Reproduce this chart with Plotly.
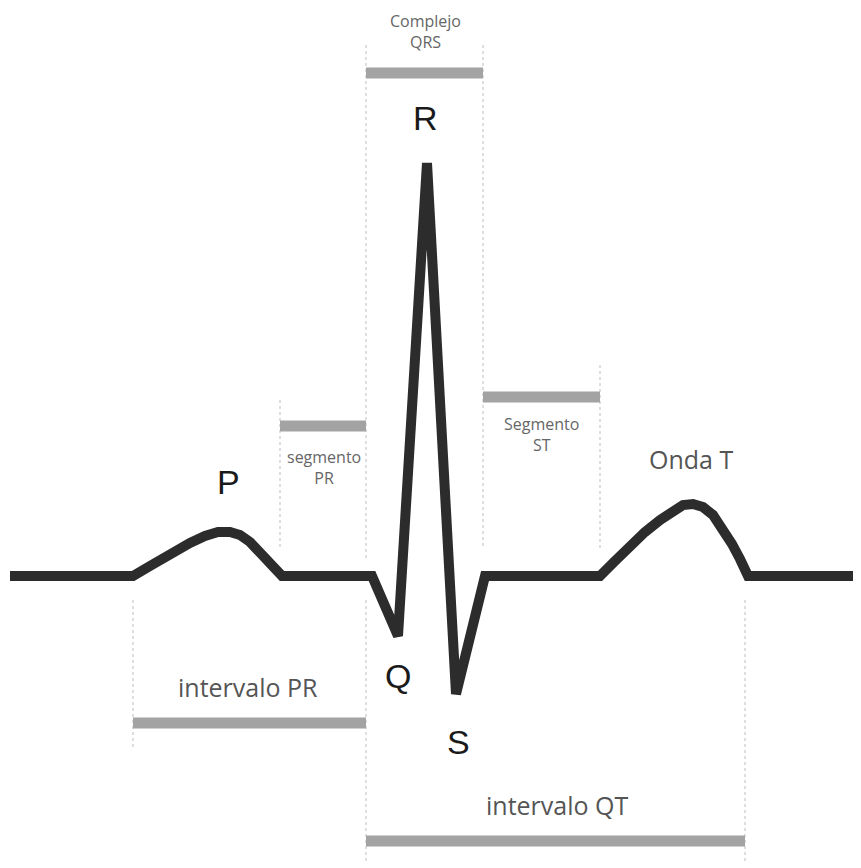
import plotly.graph_objects as go

# ECG trace (time units ~ px, amplitude units ~ px, y downward)
ecg_t = [10, 133, 150, 170, 190, 205, 218, 230, 240, 250, 260, 270, 282,
         372, 398, 427, 456, 485,
         600, 615, 630, 645, 660, 672, 683, 693, 703, 713, 722, 732, 740, 748, 861]
ecg_v = [576, 576, 566, 554, 543, 536, 532, 532, 535, 542, 553, 564, 576,
         576, 636, 163, 694, 576,
         576, 561, 546, 532, 520, 511, 505, 504, 507, 515, 527, 544, 559, 576, 576]

# Interval / segment bars: name, start, end, level
bar_names = ["Complejo QRS", "segmento PR", "Segmento ST", "intervalo PR", "intervalo QT"]
bar_start = [366, 280, 483, 133, 366]
bar_end = [483, 366, 600, 366, 745]
bar_level = [73, 426, 397, 723, 841]

# Guide lines: x, y_from, y_to
guide_x = [133, 280, 366, 366, 483, 600, 745]
guide_y0 = [600, 400, 45, 600, 45, 365, 600]
guide_y1 = [748, 548, 560, 862, 548, 548, 862]

# Labels
big_labels = ["R", "P", "Q", "S"]
big_x = [425, 228, 398, 458]
big_y = [118, 482, 676, 742]

small_labels = ["Complejo<br>QRS", "segmento<br>PR", "Segmento<br>ST"]
small_x = [425, 324, 541]
small_y = [31, 467, 434]

mid_labels = ["Onda T", "intervalo PR", "intervalo QT"]
mid_x = [691, 248, 557]
mid_y = [459, 687, 805]

fig = go.Figure()

for x, a, b in zip(guide_x, guide_y0, guide_y1):
    fig.add_trace(go.Scatter(x=[x, x], y=[a, b], mode="lines",
                             line=dict(color="#bdbdbd", width=1, dash="dot"),
                             hoverinfo="skip", showlegend=False))

for n, s, e, l in zip(bar_names, bar_start, bar_end, bar_level):
    fig.add_trace(go.Scatter(x=[s, e], y=[l, l], mode="lines", name=n,
                             line=dict(color="#a3a3a3", width=11),
                             showlegend=False))

fig.add_trace(go.Scatter(x=ecg_t, y=ecg_v, mode="lines",
                         line=dict(color="#2c2c2c", width=10),
                         showlegend=False))

for t, x, y in zip(big_labels, big_x, big_y):
    fig.add_annotation(x=x, y=y, text=t, showarrow=False,
                       font=dict(family="Liberation Sans, Arial", size=34, color="#1a1a1a"))

for t, x, y in zip(small_labels, small_x, small_y):
    fig.add_annotation(x=x, y=y, text=t, showarrow=False,
                       font=dict(family="Open Sans", size=16, color="#666666"))

for t, x, y in zip(mid_labels, mid_x, mid_y):
    fig.add_annotation(x=x, y=y, text=t, showarrow=False,
                       font=dict(family="Open Sans", size=25, color="#555555"))

# page body has an 8px margin: shrink figure and shift axis ranges to compensate
fig.update_layout(
    width=853, height=860,
    margin=dict(l=0, r=0, t=0, b=0),
    paper_bgcolor="white", plot_bgcolor="white",
    xaxis=dict(range=[8, 861], visible=False, fixedrange=True),
    yaxis=dict(range=[868, 8], visible=False, fixedrange=True),
)

fig.write_html("out.html")
